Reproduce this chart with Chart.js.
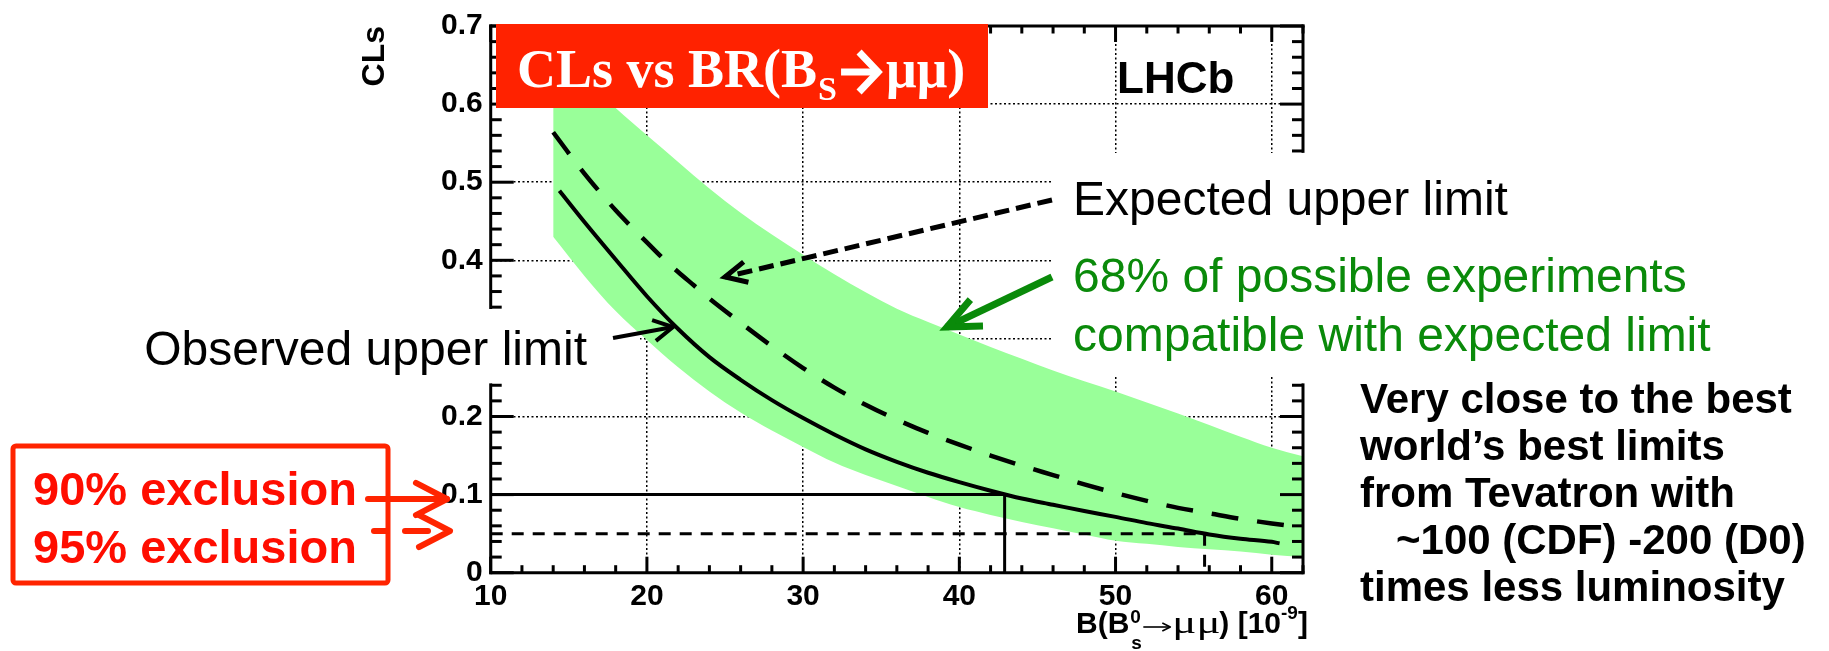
<!DOCTYPE html>
<html>
<head>
<meta charset="utf-8">
<script src="https://cdn.jsdelivr.net/npm/chart.js@4.4.0/dist/chart.umd.min.js"></script>
<style>
  html, body { margin: 0; padding: 0; background: #fff; }
  canvas { display: block; }
</style>
</head>
<body>
<canvas id="clsChart" width="1829" height="651"></canvas>
<script>
// branching fraction B(Bs -> mu mu) in units of 1e-9
const bandX    = [14, 16, 18, 20, 22, 24, 26, 28, 30, 32, 34, 36, 38, 40, 42, 44, 46, 48, 50, 52, 54, 56, 58, 60, 62];
const bandHigh = [0.675, 0.633, 0.595, 0.560, 0.526, 0.492, 0.461, 0.433, 0.407, 0.382, 0.359, 0.338, 0.321, 0.305, 0.289, 0.274, 0.259, 0.245, 0.232, 0.218, 0.204, 0.189, 0.174, 0.160, 0.149];
const bandLow  = [0.430, 0.380, 0.335, 0.298, 0.263, 0.232, 0.205, 0.182, 0.161, 0.141, 0.125, 0.111, 0.097, 0.084, 0.074, 0.065, 0.057, 0.049, 0.041, 0.037, 0.033, 0.030, 0.027, 0.023, 0.020];

const expectedX   = [14, 15, 16, 17, 18, 19, 20, 21, 22, 23, 24, 26, 28, 30, 32, 34, 36, 38, 40, 42, 44, 46, 48, 50, 52, 54, 56, 58, 60, 62];
const expectedCLs = [0.564, 0.537, 0.511, 0.487, 0.464, 0.443, 0.423, 0.403, 0.385, 0.368, 0.351, 0.320, 0.290, 0.262, 0.237, 0.215, 0.196, 0.179, 0.164, 0.150, 0.137, 0.125, 0.113, 0.102, 0.092, 0.083, 0.076, 0.069, 0.063, 0.058];

const observedX   = [14.4, 16, 18, 20, 22, 24, 26, 28, 30, 32, 34, 36, 38, 40, 42, 44, 46, 48, 50, 52, 54, 56, 58, 60, 60.5];
const observedCLs = [0.489, 0.449, 0.401, 0.354, 0.312, 0.276, 0.247, 0.221, 0.198, 0.177, 0.158, 0.142, 0.128, 0.116, 0.105, 0.095, 0.087, 0.079, 0.0715, 0.0635, 0.0565, 0.049, 0.0435, 0.0395, 0.0375];

// CLs levels for 90% / 95% exclusion and where the observed curve crosses them
const clLevels   = [0.1, 0.05];
const limitsAtCL = [42.9, 55.7];

const xRange = [10, 62];
const yRange = [0, 0.7];
const xTicks = [10, 20, 30, 40, 50, 60];
const xTickLabels = ['10', '20', '30', '40', '50', '60'];
const yTicks = [0, 0.1, 0.2, 0.3, 0.4, 0.5, 0.6, 0.7];
const yTickLabels = ['0', '0.1', '0.2', '0.3', '0.4', '0.5', '0.6', '0.7'];

const SANS = '"Liberation Sans", Arial, sans-serif';
const SERIF = '"Liberation Serif", "Times New Roman", serif';
const RED = '#ff2400';
const GREEN = '#0a8a0a';

const toPoints = (xs, ys) => xs.map((v, i) => ({ x: v, y: ys[i] }));

// pieces of the frame that stay visible next to the captions
const leftSpans = [[0, 0.2405], [0.3395, 0.7]];
const rightSpans = [[0, 0.2405], [0.5395, 0.7]];
const inSpans = (v, spans) => spans.some(([a, b]) => v >= a - 1e-6 && v <= b + 1e-6);

function seg(ctx, x0, y0, x1, y1) {
  ctx.beginPath();
  ctx.moveTo(x0, y0);
  ctx.lineTo(x1, y1);
  ctx.stroke();
}

function arrow(ctx, tail, tip, opts) {
  const { color, width, dash, head, spread, cap } = opts;
  ctx.save();
  ctx.strokeStyle = color;
  ctx.lineWidth = width;
  ctx.lineCap = cap || 'butt';
  ctx.lineJoin = cap === 'round' ? 'round' : 'miter';
  ctx.setLineDash(dash || []);
  seg(ctx, tail[0], tail[1], tip[0], tip[1]);
  ctx.setLineDash([]);
  const ang = Math.atan2(tail[1] - tip[1], tail[0] - tip[0]);
  const a1 = ang - spread, a2 = ang + spread;
  ctx.beginPath();
  ctx.moveTo(tip[0] + head * Math.cos(a1), tip[1] + head * Math.sin(a1));
  ctx.lineTo(tip[0], tip[1]);
  ctx.lineTo(tip[0] + head * Math.cos(a2), tip[1] + head * Math.sin(a2));
  ctx.stroke();
  ctx.restore();
}

function drawFrame(chart) {
  const { ctx, chartArea: a, scales: { x, y } } = chart;
  ctx.save();
  ctx.strokeStyle = '#000';
  ctx.lineWidth = 3;
  seg(ctx, a.left - 1.5, a.top, a.right + 1.5, a.top);
  seg(ctx, a.left - 1.5, a.bottom, a.right + 1.5, a.bottom);
  for (const [lo, hi] of leftSpans) {
    seg(ctx, a.left, y.getPixelForValue(lo) + 1.5, a.left, y.getPixelForValue(hi) - 1.5);
  }
  for (const [lo, hi] of rightSpans) {
    seg(ctx, a.right, y.getPixelForValue(lo) + 1.5, a.right, y.getPixelForValue(hi) - 1.5);
  }
  // minor ticks every 2 on x, every 0.02 on y
  for (let v = xRange[0]; v <= xRange[1] + 1e-6; v += 2) {
    const px = x.getPixelForValue(v);
    const len = v % 10 === 0 ? 16 : 7.5;
    seg(ctx, px, a.bottom, px, a.bottom - len);
    seg(ctx, px, a.top, px, a.top + len);
  }
  for (let i = 0; i <= 35; i++) {
    const v = i * 0.02;
    const py = y.getPixelForValue(v);
    const len = i % 5 === 0 ? 23 : 11;
    if (inSpans(v, leftSpans)) seg(ctx, a.left, py, a.left + len, py);
    if (inSpans(v, rightSpans)) seg(ctx, a.right, py, a.right - len, py);
  }
  ctx.restore();
}

function drawXTitle(ctx) {
  const base = 633;
  let cx = 1076;
  ctx.fillStyle = '#000';
  ctx.textAlign = 'left';
  ctx.textBaseline = 'alphabetic';
  ctx.font = `bold 30px ${SANS}`;
  ctx.fillText('B(B', cx, base);
  cx += ctx.measureText('B(B').width;
  ctx.font = `bold 19px ${SANS}`;
  ctx.fillText('0', cx + 1, base - 10);
  ctx.fillText('s', cx + 2, base + 16);
  cx += 14;
  ctx.strokeStyle = '#000';
  ctx.lineWidth = 1.6;
  seg(ctx, cx, base - 6, cx + 26, base - 6);
  ctx.beginPath();
  ctx.moveTo(cx + 19, base - 10);
  ctx.lineTo(cx + 27, base - 6);
  ctx.lineTo(cx + 19, base - 2);
  ctx.stroke();
  cx += 29;
  // the Greek letters are set wide, as in the original axis title
  ctx.save();
  ctx.translate(cx, base);
  ctx.scale(1.45, 1);
  ctx.font = `31px ${SERIF}`;
  ctx.fillText('\u03bc\u03bc', 0, 0);
  ctx.restore();
  cx += 47;
  ctx.font = `bold 30px ${SANS}`;
  ctx.fillText(') [10', cx, base);
  cx += ctx.measureText(') [10').width;
  ctx.font = `bold 19px ${SANS}`;
  ctx.fillText('-9', cx, base - 14);
  cx += ctx.measureText('-9').width;
  ctx.font = `bold 30px ${SANS}`;
  ctx.fillText(']', cx, base);
}

function drawTitleBox(ctx) {
  ctx.fillStyle = '#ff2200';
  ctx.fillRect(496, 24, 492, 84);
  ctx.fillStyle = '#fff';
  ctx.textAlign = 'left';
  ctx.textBaseline = 'alphabetic';
  ctx.font = `bold 54px ${SERIF}`;
  const head = 'CLs vs BR(B';
  ctx.fillText(head, 517, 87);
  let cx = 517 + ctx.measureText(head).width;
  ctx.font = `bold 34px ${SERIF}`;
  ctx.fillText('S', cx + 1, 100);
  cx += 24;
  // thick arrow
  ctx.strokeStyle = '#fff';
  ctx.lineWidth = 7;
  ctx.lineJoin = 'miter';
  seg(ctx, cx, 72, cx + 33, 72);
  ctx.beginPath();
  ctx.moveTo(cx + 18, 52);
  ctx.lineTo(cx + 37, 72);
  ctx.lineTo(cx + 18, 92);
  ctx.stroke();
  ctx.font = `bold 54px ${SERIF}`;
  ctx.fillText('\u03bc\u03bc)', cx + 45, 87);
}

const annotations = {
  id: 'annotations',
  beforeDatasetsDraw(chart) {
    const ctx = chart.ctx;
    ctx.save();
    ctx.fillStyle = '#fff';
    ctx.fillRect(430, 307, 210, 80);
    ctx.fillRect(1053, 153, 776, 222);
    ctx.restore();
  },
  afterDatasetsDraw(chart) {
    drawFrame(chart);
  },
  afterDraw(chart) {
    const ctx = chart.ctx;
    ctx.save();
    drawTitleBox(ctx);

    ctx.fillStyle = '#000';
    ctx.textAlign = 'left';
    ctx.textBaseline = 'alphabetic';
    ctx.font = `bold 44px ${SANS}`;
    ctx.fillText('LHCb', 1117, 93);

    ctx.font = `48px ${SANS}`;
    ctx.fillText('Expected upper limit', 1073, 215);
    ctx.fillStyle = GREEN;
    ctx.fillText('68% of possible experiments', 1073, 292);
    ctx.fillText('compatible with expected limit', 1073, 351);
    ctx.fillStyle = '#000';
    ctx.textAlign = 'right';
    ctx.fillText('Observed upper limit', 587, 365);

    arrow(ctx, [1052, 200], [725, 277], { color: '#000', width: 5, dash: [15, 7], head: 24, spread: 0.45 });
    arrow(ctx, [613, 338], [673, 327], { color: '#000', width: 4, head: 22, spread: 0.5 });
    arrow(ctx, [1052, 277], [947, 327], { color: GREEN, width: 7, head: 36, spread: 0.42 });

    // exclusion legend
    ctx.strokeStyle = RED;
    ctx.lineWidth = 5;
    ctx.beginPath();
    ctx.roundRect(13, 446, 375, 137, 3);
    ctx.stroke();
    ctx.fillStyle = '#ff0d00';
    ctx.textAlign = 'left';
    ctx.font = `bold 47px ${SANS}`;
    ctx.fillText('90% exclusion', 33, 505);
    ctx.fillText('95% exclusion', 33, 563);
    arrow(ctx, [368, 499], [447, 499], { color: RED, width: 6, head: 35, spread: 0.48, cap: 'round' });
    ctx.strokeStyle = RED;
    ctx.lineWidth = 6;
    ctx.lineCap = 'round';
    seg(ctx, 374, 531, 386, 531);
    seg(ctx, 405, 531, 428, 531);
    ctx.lineJoin = 'round';
    ctx.beginPath();
    ctx.moveTo(419, 515);
    ctx.lineTo(450, 531);
    ctx.lineTo(419, 547);
    ctx.stroke();
    ctx.lineCap = 'butt';

    // comparison note
    ctx.fillStyle = '#000';
    ctx.font = `bold 42px ${SANS}`;
    ctx.fillText('Very close to the best', 1360, 413);
    ctx.fillText('world\u2019s best limits', 1360, 460);
    ctx.fillText('from Tevatron with', 1360, 507);
    ctx.fillText('~100 (CDF) -200 (D0)', 1396, 554);
    ctx.fillText('times less luminosity', 1360, 601);

    drawXTitle(ctx);
    ctx.restore();
  }
};

const tickFont = { family: SANS, size: 30, weight: 'bold' };

new Chart(document.getElementById('clsChart'), {
  type: 'scatter',
  data: {
    datasets: [
      {
        label: '68% band',
        data: toPoints(bandX, bandHigh),
        showLine: true,
        fill: '+1',
        backgroundColor: '#99ff99',
        borderColor: 'rgba(0,0,0,0)',
        borderWidth: 0,
        pointRadius: 0,
        cubicInterpolationMode: 'monotone',
        order: 10
      },
      {
        label: '68% band low',
        data: toPoints(bandX, bandLow),
        showLine: true,
        fill: false,
        borderColor: 'rgba(0,0,0,0)',
        borderWidth: 0,
        pointRadius: 0,
        cubicInterpolationMode: 'monotone',
        order: 9
      },
      {
        label: 'Expected',
        data: toPoints(expectedX, expectedCLs),
        showLine: true,
        borderColor: '#000',
        borderWidth: 4.5,
        borderDash: [27, 19],
        pointRadius: 0,
        cubicInterpolationMode: 'monotone',
        order: 2
      },
      {
        label: 'Observed',
        data: toPoints(observedX, observedCLs),
        showLine: true,
        borderColor: '#000',
        borderWidth: 4,
        pointRadius: 0,
        cubicInterpolationMode: 'monotone',
        order: 1
      },
      {
        label: '90% CL',
        data: [{ x: xRange[0], y: clLevels[0] }, { x: limitsAtCL[0], y: clLevels[0] }, { x: limitsAtCL[0], y: 0 }],
        showLine: true,
        borderColor: '#000',
        borderWidth: 3,
        pointRadius: 0,
        order: 3
      },
      {
        label: '95% CL',
        data: [{ x: xRange[0], y: clLevels[1] }, { x: limitsAtCL[1], y: clLevels[1] }, { x: limitsAtCL[1], y: 0 }],
        showLine: true,
        borderColor: '#000',
        borderWidth: 3,
        borderDash: [12, 9],
        pointRadius: 0,
        order: 3
      }
    ]
  },
  options: {
    responsive: false,
    animation: false,
    events: [],
    layout: { padding: { left: 0, right: 526, top: 22.7, bottom: 0 } },
    plugins: { legend: { display: false }, tooltip: { enabled: false } },
    scales: {
      x: {
        type: 'linear',
        min: xRange[0],
        max: xRange[1],
        afterBuildTicks: s => { s.ticks = xTicks.map(v => ({ value: v })); },
        afterFit: s => { s.height = 78.3; },
        ticks: {
          autoSkip: false,
          maxRotation: 0,
          padding: 6,
          color: '#000',
          font: tickFont,
          callback: (v, i) => xTickLabels[i]
        },
        grid: { color: '#000', lineWidth: 1.5, drawTicks: false },
        border: { display: false, dash: [2, 2.5] }
      },
      y: {
        type: 'linear',
        min: yRange[0],
        max: yRange[1],
        afterBuildTicks: s => { s.ticks = yTicks.map(v => ({ value: v })); },
        afterFit: s => { s.width = 490.7; },
        ticks: {
          autoSkip: false,
          padding: 8,
          color: '#000',
          font: tickFont,
          callback: (v, i) => yTickLabels[i]
        },
        grid: { color: '#000', lineWidth: 1.5, drawTicks: false },
        border: { display: false, dash: [2, 2.5] },
        title: {
          display: true,
          text: 'CLs',
          align: 'end',
          color: '#000',
          font: { family: SANS, size: 32, weight: 'bold' },
          padding: { top: 356 }
        }
      }
    }
  },
  plugins: [annotations]
});
</script>
</body>
</html>
